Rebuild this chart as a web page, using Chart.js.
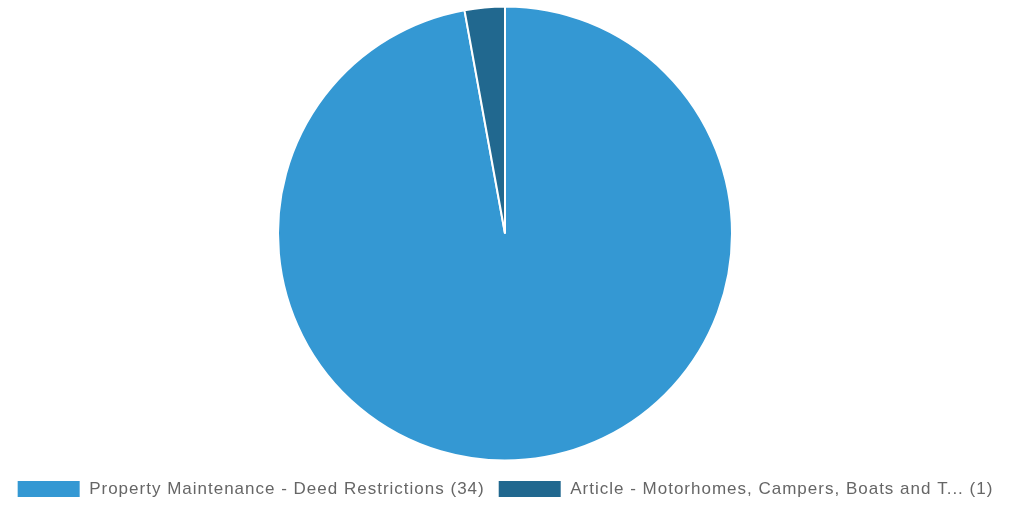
<!DOCTYPE html>
<html>
<head>
<meta charset="utf-8">
<script src="https://cdn.jsdelivr.net/npm/chart.js@4"></script>
<style>
    html, body { margin: 0; padding: 0; background: #fff; }
    #wrap { width: 1010px; height: 506px; }
</style>
</head>
<body>
<div id="wrap"><canvas id="chart"></canvas></div>
<script>
// Data
const labels = [
    'Property Maintenance - Deed Restrictions (34)',
    'Article - Motorhomes, Campers, Boats and T... (1)'
];
const values = [34, 1];
const colors = ['#3498d3', '#21688f'];

// legend text in the original is spaced out a bit
const spacing = {
    id: 'spacing',
    beforeLayout(chart) { chart.ctx.letterSpacing = '1px'; },
    beforeDraw(chart) { chart.ctx.letterSpacing = '1px'; }
};

const ctx = document.getElementById('chart').getContext('2d');
new Chart(ctx, {
    type: 'pie',
    data: {
        labels: labels,
        datasets: [{
            data: values,
            backgroundColor: colors,
            borderColor: '#ffffff',
            borderWidth: 2,
            radius: 227
        }]
    },
    options: {
        responsive: true,
        maintainAspectRatio: false,
        animation: false,
        layout: { padding: { top: 0, bottom: -2 } },
        plugins: {
            legend: {
                position: 'bottom',
                labels: {
                    boxWidth: 64,
                    boxHeight: 18,
                    padding: 13,
                    color: '#666666',
                    font: { family: '"Liberation Sans", Arial, sans-serif', size: 17 }
                }
            },
            tooltip: { enabled: false }
        }
    },
    plugins: [spacing]
});
</script>
</body>
</html>
